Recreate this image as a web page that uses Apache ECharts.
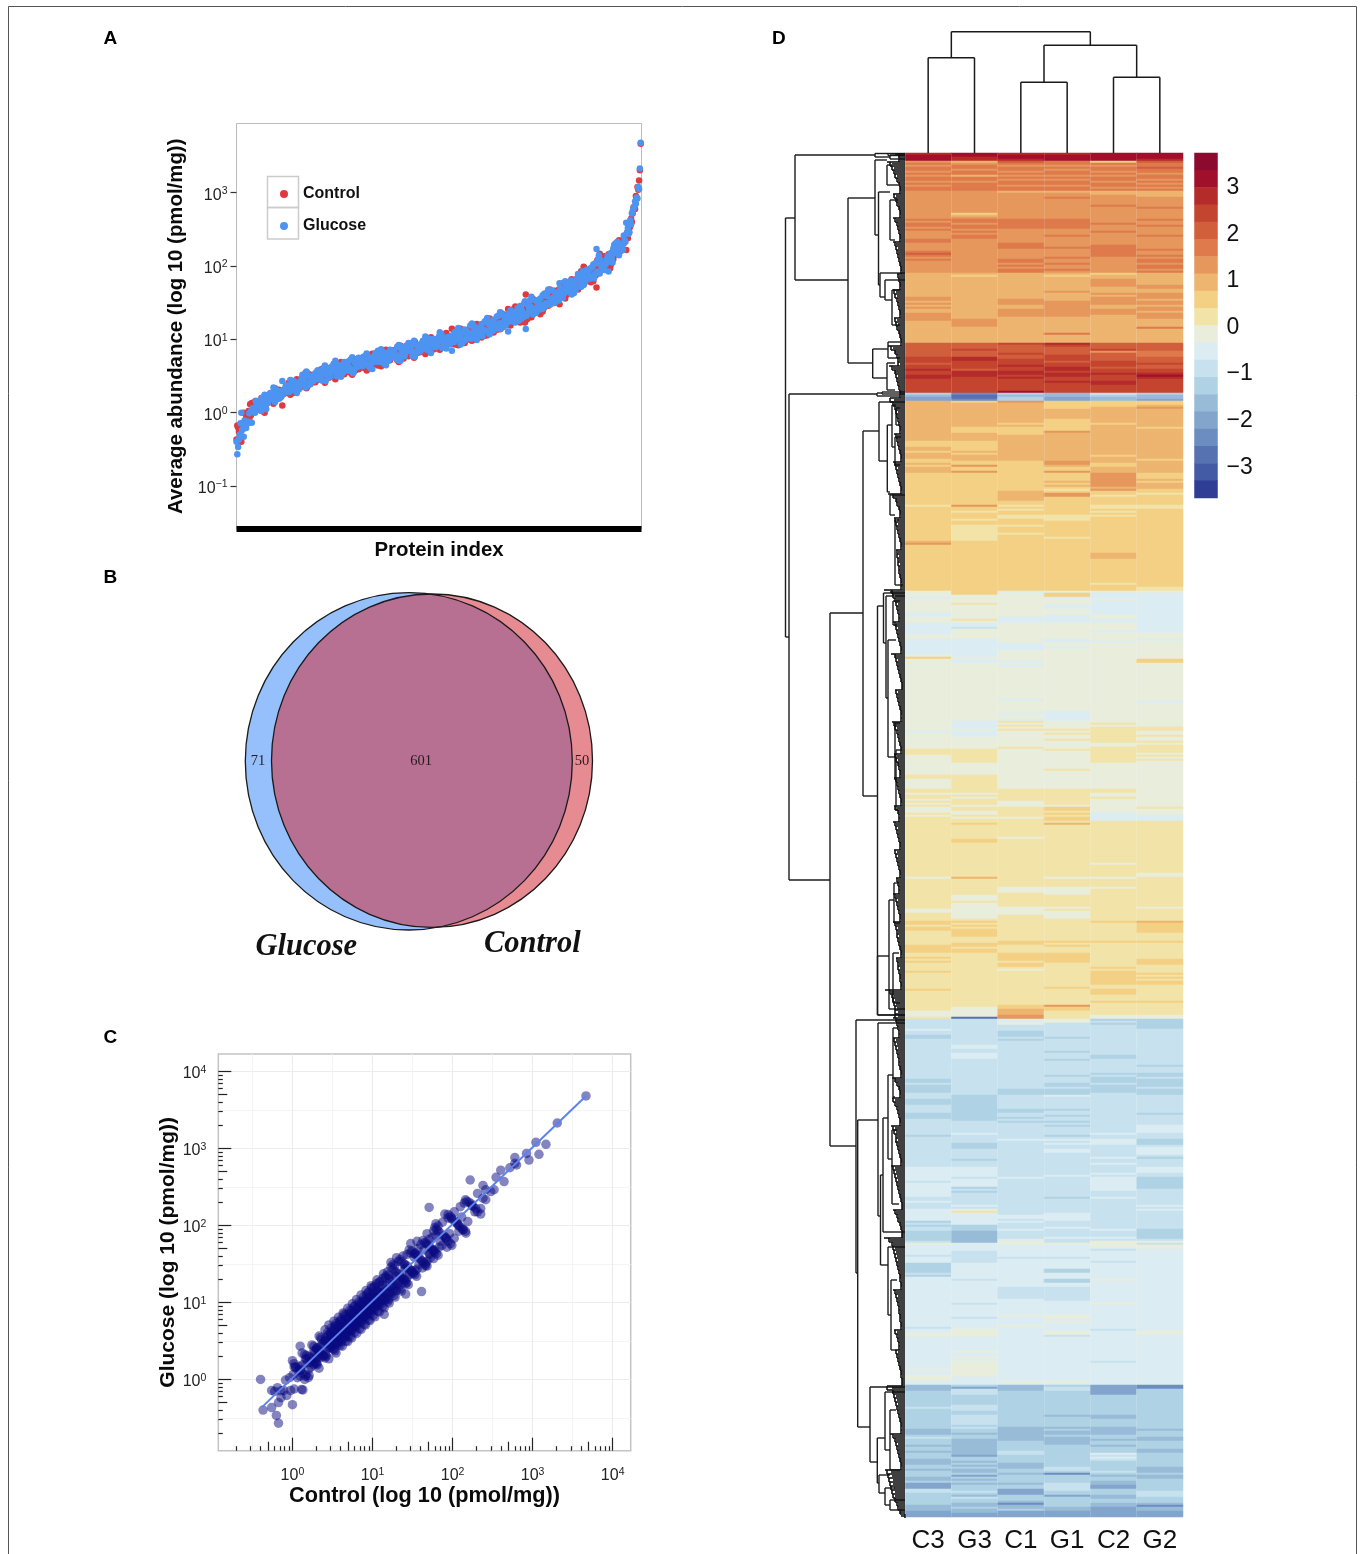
<!DOCTYPE html>
<html><head><meta charset="utf-8">
<style>html,body{margin:0;padding:0;background:#fff}#c{width:1362px;height:1554px}</style>
<script src="https://cdn.jsdelivr.net/npm/echarts@6/dist/echarts.min.js"></script>
</head><body><div id="c"></div>
<script>
const SANS='"Liberation Sans",Arial,sans-serif', SERIF='"Liberation Serif",serif';
// Panel A and C: per-protein abundance (pmol/mg); same position = same protein
const controlAbundance=[
.67,.63,.43,.55,.67,1.0,.55,.72,.40,.60,
.72,.78,.85,.65,1.05,.95,.82,1.35,.92,1.30,
1.02,1.15,1.25,1.42,1.10,1.25,1.48,1.35,1.60,1.05,
1.55,1.72,1.45,1.85,1.62,2.0,1.50,1.78,1.25,1.95,
2.05,1.85,2.3,2.1,1.9,2.45,2.2,2.6,2.0,2.35,
2.7,2.4,2.95,2.55,3.2,2.3,2.85,3.1,2.6,3.4,
3.05,3.6,2.8,3.3,3.75,3.0,3.5,4.1,3.2,3.65,
4.2,3.5,3.9,4.5,3.35,4.0,4.7,3.8,4.35,3.6,
4.9,4.25,5.2,3.9,4.6,5.5,4.4,5.0,4.1,5.4,
4.8,5.7,5.2,6.1,4.6,5.4,6.4,5.0,5.9,4.4,
6.3,5.6,6.8,5.2,6.1,7.1,5.8,6.6,7.4,5.5,
6.9,7.8,6.2,7.3,8.2,6.6,7.6,5.9,8.5,7.0,
8.1,7.2,8.9,7.6,9.4,6.8,8.4,9.8,7.3,8.8,
9.5,8.1,10.4,7.9,9.1,11.0,8.6,10.0,14.0,11.5,
9.0,10.8,8.5,11.8,9.6,12.4,10.2,8.9,13.0,10.9,
11.5,14.0,9.8,12.5,15.0,10.6,13.2,16.0,11.2,14.2,
16.5,12.4,18.0,13.5,17.0,20.0,14.6,18.5,26.0,15.8,
20.5,15.5,22.5,17.0,24.0,18.0,19.5,26.0,17.0,23.0,
27,19,29,21,26,32,22,25,34,20,
28.7,36,24,42,30,41,27,38,33,46,
34,48,37,53,30,44,58,40,51,36,
52,45,60,51,68,48,74,56,85,62,
70,58,82,66,92,75,105,62,88,120,
98,135,80,115,147,51,105,155,130,125,
140,190,150,175,225,205,240,260,166,330,
350,440,400,520,600,631,600,900,840,1200,
1100,1468,2032,4640,
1.32,1.45,1.1,1.58,1.05,1.26,1.18,1.0,1.62,1.22,
1.9,1.5,2.15,1.72,1.42,1.98,1.78,1.32,2.05,1.62,
2.25,2.55,2.0,2.85,1.85,2.4,2.12,1.75,2.65,2.05,
2.9,3.3,2.5,3.5,2.25,3.0,2.7,2.15,3.4,2.6,
3.4,3.75,3.0,4.2,2.75,3.55,3.2,2.55,3.95,2.95,
3.9,4.4,3.4,4.9,3.05,4.1,3.7,2.85,4.65,3.3,
4.45,5.0,3.95,5.5,3.5,4.7,4.2,3.3,5.3,3.8,
5.05,5.6,4.5,6.35,4.0,5.3,4.8,3.75,6.0,4.35,
5.75,6.4,5.1,7.2,4.6,6.1,5.45,4.3,6.9,5.0,
6.55,7.4,5.8,8.2,5.2,7.0,6.2,4.9,7.9,5.7,
7.5,8.5,6.7,9.3,6.0,7.95,7.1,5.6,9.0,6.5,
8.5,9.6,7.6,10.7,6.8,9.1,8.1,6.3,10.2,7.4,
9.75,11,8.7,12.2,7.7,10.4,9.2,7.2,11.7,8.5,
11.2,12.7,9.9,14,8.9,11.9,10.6,8.3,13.4,9.7,
13,14.7,11.5,16.2,10.3,13.8,12.2,9.6,15.5,11.2,
15.4,17.4,13.6,19.2,12.2,16.4,14.6,11.4,18.4,13.3,
18.5,21,16.4,23,14.7,19.7,17.5,13.7,22,16,
22.6,25.5,20,28,18,24,21.4,25,26.8,19.5,
28.8,32.5,25.5,35.6,23,30.6,27.2,31,34,24.8,
39,44,34.6,48,31,41.5,37,42,46,33.6,
53.5,60,47.5,66,42.6,57,50.5,57,63,46,
76.5,88,66,98,60,84,71,82,94,63,
112,130,97,145,88,122,105,118,136,93,
180,205,160,225,145,195,172,240,260,300];
const glucoseAbundance=[
.27,.34,.40,.43,.50,.47,.72,.58,1.0,.70,
.71,.72,.62,.78,.75,.72,.98,.73,1.05,.74,
1.15,1.05,1.10,1.00,1.45,1.30,1.15,1.55,1.35,1.45,
1.65,1.45,1.85,1.55,1.90,1.60,2.05,1.75,2.70,1.85,
1.9,2.35,1.95,2.4,2.25,2.0,2.65,2.1,2.55,2.3,
2.45,2.95,2.6,3.15,2.5,3.3,2.9,2.7,3.45,2.85,
3.5,2.95,3.8,3.4,3.05,4.0,3.45,3.1,4.3,3.7,
3.6,4.4,4.05,3.45,4.9,4.2,3.75,4.6,4.1,5.0,
4.15,5.1,4.4,5.6,4.9,4.3,5.3,4.7,5.8,4.6,
5.9,4.9,5.7,4.95,6.5,5.6,5.1,6.3,5.4,7.0,
5.4,6.7,5.9,7.2,6.6,5.7,7.3,6.2,5.9,7.8,
7.5,6.5,8.2,7.1,6.7,8.4,7.0,8.9,6.9,8.1,
7.3,9.0,7.7,8.9,7.9,9.6,8.6,7.8,10.1,9.0,
8.4,10.3,8.8,10.9,9.9,8.7,11.2,9.4,7.0,9.2,
11.4,9.4,12.6,10.0,11.9,9.8,12.8,13.6,10.5,12.0,
14.0,10.8,15.5,13.0,11.4,16.2,13.6,11.0,17.5,13.3,
13.2,18.5,14.0,20.5,15.5,14.2,21.0,16.6,12.8,22.5,
17.5,25.0,19.5,28.5,18.0,31.0,22.0,17.5,33.0,20.5,
21,30,23,34,28,24,36,27,26,38,
48,27,40,28,44,13.8,42,31,39,30,
44,34,50,38,58,48,37,56,43,62,
42,60,48,66,52,78,55,70,52,74,
62,85,70,98,78,110,68,105,125,84,
120,88,140,105,79,171,150,112,128,175,
195,150,205,180,165,260,330,215,388,290,
420,370,520,560,640,608,760,705,860,836,
1197,1127,2133,4790,
1.2,1.1,1.42,1.05,1.6,1.34,1.3,1.75,1.12,1.48,
1.62,1.82,1.4,1.66,2.1,1.68,1.9,2.2,1.55,1.98,
2.1,1.9,2.45,1.85,2.7,2.05,2.3,2.8,2.0,2.55,
2.62,2.45,3.05,2.2,3.5,2.7,3.1,3.65,2.35,3.2,
3.15,2.85,3.7,2.7,4.05,3.05,3.55,4.4,2.75,3.85,
3.65,3.4,4.15,3.1,4.65,3.55,4.05,5.1,3.15,4.5,
4.15,3.7,4.85,3.45,5.3,3.95,4.6,5.7,3.6,5.05,
4.75,4.35,5.3,3.95,6.0,4.55,5.2,6.4,4.1,5.65,
5.45,4.9,6.1,4.45,6.85,5.2,5.95,7.3,4.6,6.45,
6.25,5.55,7.0,5.1,7.9,5.9,6.8,8.4,5.2,7.35,
7.1,6.4,7.95,5.8,8.9,6.75,7.75,9.6,5.95,8.4,
8.1,7.2,9.1,6.5,10.2,7.6,8.85,10.9,6.8,9.5,
9.25,8.2,10.4,7.5,11.7,8.7,10.1,12.5,7.7,10.8,
10.6,9.4,12,8.5,13.3,10,11.6,14.3,8.9,12.4,
12.2,10.8,13.8,9.8,15.4,11.5,13.4,16.5,10.2,14.4,
14.6,13,16.5,11.7,18.3,13.7,15.9,19.6,12.2,17,
17.5,15.5,19.8,14,22,16.4,19,23.5,14.7,20.4,
21.4,19,24,17,26.8,20,23.2,20,18,24.9,
27.2,24,30.8,21.8,34,25.5,29.6,25.5,23,31.6,
37,32.8,41.8,29.6,46.5,34.6,40,34,31.4,43,
50.5,45,57,41,63.5,47.5,54.7,47,43,58.8,
73.5,62,85,55,94,67,79,68,58,89,
108,92,125,84,138,98,116,100,88,131,
176,150,200,140,215,165,190,225,290,275];
const decadeTicks=[0.1,1,10,100,1000];
const decadeTicksC=[1,10,100,1000,10000];
const halfDecadesC=[0.316,3.16,31.6,316,3160];
const minorTicksShort=[.2,.3,.4,.6,.7,.8,.9,2,3,4,6,7,8,9,20,30,40,60,70,80,90,200,300,400,600,700,800,900,2000,3000,4000,6000,7000,8000,9000];
const minorTicksMid=[.5,5,50,500,5000];
const fitLine=[[0.42,0.44],[4640,4790]];
// Panel B
const vennSets=[['Glucose',163.8,169.3,163.5,168.7,'#96c0fc'],['Control',187,168.7,160.5,166.7,'rgba(212,44,58,.55)']];
const vennCounts=[[13,169,'71'],[176,169,'601'],[337,169,'50']];
// Panel D
const sampleNames=['C3','G3','C1','G1','C2','G2'];
const levelColors=['#8b0a2e','#a0102b','#b52a2a','#c4452f','#d15f3c','#de7a4c','#e6975b','#edb56f','#f3d083','#f2e3a8','#e9eddc','#dbecf2','#c7e2ee','#b0d2e5','#98bcd8','#83a5cc','#6c8dc0','#5672b1','#435ba5','#2f3d94'];
const levelCodes='abcdefghijklmnopqrst';
const colorbarTicks=[-3,-2,-1,0,1,2,3];
const blockRows=[4,15,14,12,15,35,25,4,20,15,17,20,23,16,18,16,15,15,20,15,28,22,25,24,17,21,19,17,21,17,22,21,28,16,16,17,17];
const colC3=["c1b3","g1f1g1f2g1f1g1f2g1f1g1f2","g14","f1g1f2g1f1g1g3f2","g4f1e1f1g1f1g6","h12g2h1g1h1g1h2g4h11","e7d3e1d2c1d2c2d7","n1o1p2","h20","i3h2i1h3i2h1i1h2","h1i16","j1i17h1g1","i23","k3l1k7l2k3","l6k2l8k1i1","k16","k15","k5l1k8j1","j2k10j2k5j1","j1k1j2k1j1k1j1k3j1k1j2","j28","k1j15k2j4","i2j1i2j7i4j2i1j1i1j4","i1j8i1j10k3j1","m5l1m2n2m7","m13n2m1n4m1","m2n3m4n3m7","m1n1m15","l7m1l7m2l1m3","l6n1m1n1m2n5m1","k1l5m1l3n5m1n1l5","l20m1","l2k2l16k1l2k3l2","o3n8m1n4","n6o3n1m1n3o1n1","n1o1n3o3n2o1n3o2n1","p3m2n6o3p3"];
const colG3=["b2c2","h1g1f2g1f2h1f2g1f4","g11i1h1g1","f2g1f2g1f1g1f2g1g1","g15","h1i1h21g4h8","e3d1e3c2d4e1c3d8","q1r2q1","i1h12i3h4","i5h1i1h3i2g1i2","g1i16","g1i2j1i3j1i2j8i2","i23","i2k4j1k7j1k1","l2m1k5l9k1","l2k14","k15","l4k1l3k6j1","j6k6j5j1j2","j1k1j1k1j3k1j2k2j1k1j1","j1i1j7i2j17","h1j8k3j1k8j1","i1j1i1j1i4j3i2j1i2j9","j18k5r1","m13l2m2","l3m18","n13m6","l1m4n3m5n1m3","l5m1l4n1m1n1m6l1m1","k1j1l6n3o6","l4m6l8m1l3","l8m1l6m1l5","k4l7k1l2k1l1k8l4","n1p1m3n5m3n2m1","m4n1m1n2o1n2o5","o3p1n2o1n1o1n1o2n1p1n1o1n1","o1n3m1n1o1m1n2o2n1o2p2"];
const colC1=["c1b2c1","e1f1g1f2g1f1g1f1g1f2g1f2","h1g13","f5g7","f3g5f2g1f1g1f2","h13g3h2g4h13","d1e4d1e2d3c1d2c2d1c1d6b1","n1o1n2","g1h10i1h1i4h3","h10i5","i10h5i2","j1i1j1i2j2i3j1i3j1i5","i23","l1k12l3","k10l4k4","k1l1k1l1k12","k4l1k6l1k2l1","j1k1j1k1j1k8j1k1","k19j1","j5k3j5k1j1","j8k1j19","j5k3j7k4j3","j10i2j4i4j1i2j1k1","j17i2h3g2","l2k1m3n3m1n1m6","m18n3","m7n2m2n1m1n1m5","m3l1m13","m5l1m15","m3l2m1l1m3l1m4l1k1","k1l6m1l14","m6l8k1l4k1l1","l26k1l1","o3n13","n5o7n4","n1m2n4o3n2o1n4","o1n2p3n3o1q1o2n1p3"];
const colG1=["c1b3","f2g1f1g1f2g1f1g1f2g1f2","h1g2f1g10","f5g3f1g3","g2f1g4f1g2f1g2f1g1","h1i1h7g1h4g8h8f1h4","c1d1e4d3e1d2c2d1c2d2c1d5","o2p2","i4h5i6g1h4","h10g2h1i2","g1i4h1i1h1i1j1i1g2i4","i5j3i8j1i3","i23","k1i2l1k3l2k3l4","k8l2k2l1k5","k16","k10l5","k4j1k1j1k2j1k4j1","k9j1k9j1","j4j1j2k1i2j1i1j1i2","j1h1j26","k1j4k4j6k1j1k4j1","j10i1j1i1j3i3i2j4","j8i1j8g1i1i1j4","k2m7n1m6n1","m3n1m7n1m3n2m1n3","l1m6n1m2n1m2n1m1n1m3","m1n1m1l1m1l1m2l2m7","m4l1m10n1m5","m2l4m3l1m4l1m2","k1l6m1l5n2l3n2l2","m7l7k2l1k1l3","l1k2m1l22k1l1","n1m2n12o1","n5o1n1o2n1o4n2","n9m2n1q1n4","m4n2p1n5o2p3"];
const colC2=["b4","i1f1g1f2g1f1g1f2g1f2g1f1","h2g5f1g6","g2f1g3f1g5","g1f6g8","i1h2g4h3g1h1g4h2g3h14","e3d1g1e4d3e1d2c1d3c2d4","m1n1o2","i3h8i1h8","h7i1h3i2h2","h1g7h1g1i2j1i4","j2i1j1i1j1i14","i4h3i12j1i3","k1l3k1l7k2l2","k4l1k4l1k8","k16","k15","k1j1k1j6j1j1k1k1j2","j6k13j1","j1k2j1k7l4","j21k1j6","k1j4k1j16","i1j9i1j12i1j1","i7j2i3j3i1j6k2","n1m1n1m14","m1n2m7n1m1n3m1n4m1","m19","l1m2l3m6l1m2l1m1","m3l1m1l7m3l1m5","m10l1m3l1m1k1","k2l1m1l5m1l8k1l3","l8k1l12","m1l15m1l11","p5n10o1","o1n4o4n2o1n2o1n1","n2l1m1l1m1n5m1n1o1n2o1","o1p2n3o2n2o2p5"];
const colG2=["b3c1","e1f2e1f2g1f2g1f1g1f1g1f1","h3g5f1g5","f1g2f1g4f1g3","g3f1g2f1g1f2g1f2g1f1","h6g2h2g3h1g2h1g2h1g3h4f1h7","e4f3e3d1e2d2c1b1c1d7","n1o2p1","i2h1g1h9i1h6","h9i1h5","h1i3h1i1h3i2j1i5","j2i18","i21j2","k1l15","l5k3l1k9","i2k14","k5l1k9","k3j2k2j1k2j1k1j1j2","j1k1j1k1j1k15","k8j1k3l3","j26k2","j15k1j6","h1i5j4i1j8i3j3","j1i1j1i1j1i2j8i1j6k2","n5m12","m6n1m3n2m1n4m1n3","m9n1m5l4","m3n3m1l4m1n1m2","l3m2n6m8l1m1","l1m9n5m1k1","m1k2l19","l21","l1k2l25","q2n14","n6o1n3o2n4","o2n7o3n1o2n2","n4m3n3o1q1o2p3"];
// Dendrograms. Column tree: [posA, heightA, posB, heightB, mergeHeight]
const colTree=[[0,0,1,0,95.3],[2,0,3,0,70.7],[4,0,5,0,75.7],[2.5,70.7,4.5,75.7,107.7],[0.5,95.3,3.5,107.7,121.3]];
// Row tree: [mergeHeight, rowA, heightA, rowB, heightB]
const rowTree=[[119.5,32.5,110,242,116],[110,1,30,63.5,57],[30,.25,17,2,15],[17,.25,0,1.25,0],[15,1,0,3,0],[57,22.5,30,105,33],[30,3.5,18,41,26.5],[18,6,13,16,7],[26.5,19.5,15,66,25],[15,23.5,7,43.5,10],[25,60,0,72,20],[20,63.5,0,73.5,13],[13,68.5,5,86,5],[32.3,98,17,112.5,18],[17,94.5,5,102.5,5],[18,105,10,118.5,10],
[28,120,23,121.5,5],[23,119.5,0,120.5,0],[116,120.5,28,363.5,75],[75,230,42,496.5,49],[42,139,26,321.5,27.5],[26,124.5,0,154,17.7],[17.7,136,13,169.5,15],[13,126,9,147,10],[9,127.5,5,136,5],[10,142,4,156,5],[15,171,0,181,10],[10,183.5,6,216,2],
[27.5,226.5,21.5,431,0],[27.5,401.5,16,431,0],[21.5,220,0,245,19],[19,221.5,0,272.5,17],[12,224,5,236,8],[17,243.5,9,302,10],[10,285,5,313.5,9],[9,298.5,4,328.5,7],[16,373.5,11,428,0],[11,365,6,385,5],[12,400,6,425,5],
[49,433.5,0,560,47.3],[47.3,483.5,27,637,35],[27,435,0,531.5,24.5],[24.5,511,22,556,17],[22,482.5,17,539.5,0],[17,461,12,503,13],[12,437.5,7,472,10],[13,488.5,8,525.5,6],[17,547,0,581,14],[14,563.5,8,598.5,10],[35,617,0,654.5,27.7],[27.7,642.5,20,665,26],[20,619.5,0,648.5,15],[15,628.5,9,658.5,5],[26,661,15,670,20],[20,667.5,10,676,15],[15,673.5,0,678.5,0]];
// Leaf merge heights read down the row dendrogram, base-36 digits, one per two rows
const leafHeights=["a6","ifdba865","cb9865","ca8765","ca987654","8765","cba8765","ba98654","hea87","gda98765","ff","ca98765","b987654","ca987654","hc9865","ba987654","9887766544","ldca9876","ca987654","ea9876543","a9876544","dba87654","ba9765","b987654","ba76","ca98765","ba98765","9876","ca98765","ca9887654","98776554","kfdcbaa","c9876","cba9876654","da865","dca8765","ecb9a87654","ecba9876543","ca87543","lg","dcba9876554","ca98766554","ba876","a98765443","ii","cba9876544","fca987654","kihgfedca875"].join('');

// ---- derived tables ----
const proteinOrder=controlAbundance.map((_,i)=>i).sort((a,b)=>controlAbundance[a]*glucoseAbundance[a]-controlAbundance[b]*glucoseAbundance[b]);
const sampleCols=[colC3,colG3,colC1,colG1,colC2,colG2];
const levelZ=i=>+(3.7-0.37*(i+.5)).toFixed(3);
const rowCount=blockRows.reduce((a,b)=>a+b,0);
const rowNames=Array.from({length:rowCount},(_,i)=>'P'+(i+1));
const heatData=[];
sampleCols.forEach((col,c)=>{
  let row=0;
  col.forEach((rle,b)=>{
    let n=0,last='k';
    for(const m of rle.matchAll(/([a-t])(\d+)/g)){
      last=m[1];
      for(let k=0;k<+m[2]&&n<blockRows[b];k++,n++) heatData.push([c,row+n,levelZ(levelCodes.indexOf(m[1]))]);
    }
    for(;n<blockRows[b];n++) heatData.push([c,row+n,levelZ(levelCodes.indexOf(last))]);
    row+=blockRows[b];
  });
});
const colorbarData=levelColors.map((_,i)=>[0,i,levelZ(i)]);
const colSegs=[];
colTree.forEach(([a,ha,b,hb,h])=>{colSegs.push([a,ha,a,h],[a,h,b,h],[b,hb,b,h]);});
const rowSegs=[];
rowTree.forEach(([h,ra,ha,rb,hb])=>{rowSegs.push([h,ra,h,rb],[h,ra,ha,ra],[h,rb,hb,rb]);});
const leafSegs=[];
[...leafHeights].forEach((ch,i)=>{
  const h=parseInt(ch,36), r=i*2+.5, next=parseInt(leafHeights[i+1]||'0',36);
  leafSegs.push([h,r,0,r],[Math.ceil(h*.7),r+1,0,r+1],[Math.min(h,next),r,Math.min(h,next),r+2]);
});
const segRender=(w,col)=>(p,api)=>{
  const a=api.coord([api.value(0),api.value(1)]),b=api.coord([api.value(2),api.value(3)]);
  return {type:'line',shape:{x1:a[0],y1:a[1],x2:b[0],y2:b[1]},style:{stroke:col,lineWidth:w,fill:null},silent:true};
};
const sup=v=>{const e=Math.round(Math.log10(v));return '{b|10}{s|'+(e<0?'\u2212'+(-e):e)+'}';};
const supRich={b:{fontSize:16,fontFamily:SANS,color:'#222',padding:[5,0,0,0]},s:{fontSize:10.5,fontFamily:SANS,color:'#222',padding:[0,0,3,0]}};
const hideAxis=(o)=>Object.assign({show:true,axisLine:{show:false},axisTick:{show:false},axisLabel:{show:false},splitLine:{show:false}},o);
const logBounds={min:0.1186,max:16790};
const logC={type:'log',logBase:10,min:logBounds.min,max:logBounds.max};
const logCx={...logC,position:'bottom'}, logCy={...logC,position:'left'};
const darkTick=(len,vals)=>({show:true,inside:true,length:len,customValues:vals,lineStyle:{color:'#222',width:1.2}});
const titleFont={fontFamily:SANS,fontWeight:'bold',color:'#0a0a0a'};
const noLine={show:false,onZero:false};

const option={
 animation:false,backgroundColor:'#fff',
 grid:[
  {left:236.5,top:123.5,width:405,height:405.5,show:true,borderColor:'#bbb',borderWidth:1,backgroundColor:'#fff'},
  {left:245,top:592,width:348,height:339},
  {left:218.3,top:1054,width:412.4,height:396.7,show:true,borderColor:'#c4c4c4',borderWidth:1.5,backgroundColor:'#fff'},
  {left:905,top:153,width:278,height:1364},
  {left:1194.5,top:153,width:23,height:345},
  {left:905,top:30,width:278,height:123},
  {left:785,top:153,width:120,height:1364}
 ],
 xAxis:[
  {gridIndex:0,type:'value',min:0,max:controlAbundance.length,name:'Protein index',nameLocation:'middle',nameGap:11,nameTextStyle:{...titleFont,fontSize:20.4},
   axisLine:{show:true,onZero:false,lineStyle:{color:'#000',width:6,cap:'butt'}},axisTick:{show:false},axisLabel:{show:false},splitLine:{show:false}},
  hideAxis({gridIndex:1,type:'value',min:0,max:348,show:false}),
  {gridIndex:2,...logCx,name:'Control (log 10 (pmol/mg))',nameLocation:'middle',nameGap:31,nameTextStyle:{...titleFont,fontSize:21.7},
   axisLine:noLine,axisTick:darkTick(13,decadeTicksC),axisLabel:{show:true,margin:12,customValues:decadeTicksC,formatter:sup,rich:supRich},splitLine:{show:true,lineStyle:{color:'#ececec',width:1}}},
  {gridIndex:2,...logCx,axisLine:noLine,axisTick:{show:false,customValues:halfDecadesC},axisLabel:{show:false},splitLine:{show:true,lineStyle:{color:'#f4f4f4',width:1}}},
  {gridIndex:2,...logCx,axisLine:noLine,axisTick:darkTick(4.5,minorTicksShort),axisLabel:{show:false},splitLine:{show:false}},
  {gridIndex:2,...logCx,axisLine:noLine,axisTick:darkTick(9,minorTicksMid),axisLabel:{show:false},splitLine:{show:false}},
  {gridIndex:3,type:'category',data:sampleNames,z:10,axisLine:{show:false},axisTick:{show:false},axisLabel:{fontFamily:SANS,fontSize:26,color:'#111',margin:11},splitLine:{show:true,lineStyle:{color:'rgba(255,255,255,.14)',width:1}}},
  hideAxis({gridIndex:4,type:'category',data:[''],show:false}),
  hideAxis({gridIndex:5,type:'value',min:-.5,max:5.5,show:false}),
  hideAxis({gridIndex:6,type:'value',min:0,max:120,inverse:true,show:false})
 ],
 yAxis:[
  {gridIndex:0,type:'log',logBase:10,min:0.0259,max:8790,position:'left',name:'Average abundance (log 10 (pmol/mg))',nameLocation:'middle',nameRotate:90,nameGap:50,nameTextStyle:{...titleFont,fontSize:20.4},
   axisLine:noLine,axisTick:{show:true,length:6,customValues:decadeTicks,lineStyle:{color:'#333',width:1.2}},axisLabel:{show:true,margin:9,customValues:decadeTicks,formatter:sup,rich:supRich},splitLine:{show:false}},
  hideAxis({gridIndex:1,type:'value',min:0,max:339,inverse:true,show:false}),
  {gridIndex:2,...logCy,name:'Glucose (log 10 (pmol/mg))',nameLocation:'middle',nameRotate:90,nameGap:35,nameTextStyle:{...titleFont,fontSize:21},
   axisLine:noLine,axisTick:darkTick(13,decadeTicksC),axisLabel:{show:true,margin:12,customValues:decadeTicksC,formatter:sup,rich:supRich},splitLine:{show:true,lineStyle:{color:'#ececec',width:1}}},
  {gridIndex:2,...logCy,axisLine:noLine,axisTick:{show:false,customValues:halfDecadesC},axisLabel:{show:false},splitLine:{show:true,lineStyle:{color:'#f4f4f4',width:1}}},
  {gridIndex:2,...logCy,axisLine:noLine,axisTick:darkTick(4.5,minorTicksShort),axisLabel:{show:false},splitLine:{show:false}},
  {gridIndex:2,...logCy,axisLine:noLine,axisTick:darkTick(9,minorTicksMid),axisLabel:{show:false},splitLine:{show:false}},
  hideAxis({gridIndex:3,type:'category',data:rowNames,inverse:true,show:false}),
  hideAxis({gridIndex:4,type:'category',data:levelColors.map((_,i)=>'L'+i),inverse:true,show:false}),
  {gridIndex:4,type:'value',position:'right',min:-3.7,max:3.7,axisLine:{show:false},axisTick:{show:false},splitLine:{show:false},
   axisLabel:{show:true,margin:9,customValues:colorbarTicks,formatter:v=>'{a|'+String(v).replace('-','\u2212')+'}',rich:{a:{fontFamily:SANS,fontSize:23,color:'#111',padding:[4,0,0,0]}}}},
  hideAxis({gridIndex:5,type:'value',min:0,max:123,show:false}),
  hideAxis({gridIndex:6,type:'value',min:0,max:682,inverse:true,show:false})
 ],
 legend:{data:['Control','Glucose'],orient:'vertical',left:275,top:181,itemWidth:28,itemHeight:8,itemGap:16,textStyle:{fontFamily:SANS,fontWeight:'bold',fontSize:16,color:'#111'}},
 visualMap:{type:'piecewise',show:false,seriesIndex:[5,6],dimension:2,pieces:levelColors.map((c,i)=>({min:3.7-0.37*(i+1),max:3.7-0.37*i,color:c}))},
 series:[
  {name:'Control',type:'scatter',xAxisIndex:0,yAxisIndex:0,clip:false,symbol:'circle',symbolSize:6.5,itemStyle:{color:'#e0393e',opacity:1},data:proteinOrder.map((p,i)=>[i,controlAbundance[p]])},
  {name:'Glucose',type:'scatter',xAxisIndex:0,yAxisIndex:0,clip:false,symbol:'circle',symbolSize:6.5,itemStyle:{color:'#4d94f2',opacity:1},data:proteinOrder.map((p,i)=>[i,glucoseAbundance[p]])},
  {type:'custom',name:'Venn',xAxisIndex:1,yAxisIndex:1,clip:false,silent:true,
   data:vennSets.map((s,i)=>[s[1],s[2],s[3],s[4],i]),
   renderItem:(p,api)=>{
     const c=api.coord([api.value(0),api.value(1)]),sz=api.size([api.value(2),api.value(3)]),idx=api.value(4);
     const kids=[{type:'ellipse',shape:{cx:c[0],cy:c[1],rx:sz[0],ry:sz[1]},style:{fill:vennSets[idx][5],stroke:null}}];
     if(idx===1){
       vennSets.forEach(s=>{const q=api.coord([s[1],s[2]]),w=api.size([s[3],s[4]]);kids.push({type:'ellipse',shape:{cx:q[0],cy:q[1],rx:w[0],ry:w[1]},style:{fill:null,stroke:'#1a1a1a',lineWidth:1.3}});});
       vennCounts.forEach(t=>{const q=api.coord([t[0],t[1]]);kids.push({type:'text',style:{text:t[2],x:q[0],y:q[1],align:'center',verticalAlign:'middle',fontFamily:SERIF,fontSize:14.5,fill:'#2a1a20'}});});
     }
     return {type:'group',children:kids};
   }},
  {type:'scatter',name:'Control vs Glucose',xAxisIndex:2,yAxisIndex:2,symbol:'circle',symbolSize:9.5,itemStyle:{color:'#0a0a82',opacity:.5},data:controlAbundance.map((v,i)=>[v,glucoseAbundance[i]])},
  {type:'line',name:'Fit',xAxisIndex:2,yAxisIndex:2,showSymbol:false,lineStyle:{color:'#5b82ee',width:2},data:fitLine,z:5},
  {type:'heatmap',name:'Protein levels',data:heatData,progressive:0},
  {type:'heatmap',name:'Colour key',data:colorbarData,progressive:0},
  {type:'custom',name:'Sample tree',clip:false,silent:true,data:colSegs,renderItem:segRender(1.5,'#1a1a1a')},
  {type:'custom',name:'Protein tree',clip:false,silent:true,data:rowSegs,renderItem:segRender(1.4,'#1c1c1c')},
  {type:'custom',name:'Protein leaves',clip:false,silent:true,data:leafSegs,renderItem:segRender(1.6,'#111')}
 ],
 graphic:{elements:[
  {type:'polyline',shape:{points:[[8.5,1554],[8.5,6.5],[1356.5,6.5],[1356.5,1554]]},style:{fill:null,stroke:'#555',lineWidth:1},silent:true},
  {type:'rect',shape:{x:267.5,y:176.5,width:31,height:31},style:{fill:null,stroke:'#ccc',lineWidth:1.5},z:1},
  {type:'rect',shape:{x:267.5,y:207.5,width:31,height:31.5},style:{fill:null,stroke:'#ccc',lineWidth:1.5},z:1},
  ...[['A',103.5,39],['B',103.5,578],['C',103.5,1038],['D',772,39]].map(t=>({type:'text',x:t[1],y:t[2],style:{text:t[0],fontFamily:SANS,fontWeight:'bold',fontSize:19,fill:'#000',verticalAlign:'middle'}})),
  {type:'text',x:255.5,y:947,style:{text:'Glucose',fontFamily:SERIF,fontWeight:'bold',fontStyle:'italic',fontSize:30.5,fill:'#111',verticalAlign:'middle'}},
  {type:'text',x:484,y:944,style:{text:'Control',fontFamily:SERIF,fontWeight:'bold',fontStyle:'italic',fontSize:30.5,fill:'#111',verticalAlign:'middle'}}
 ]}
};
const place=(si,g)=>{option.series[si].xAxisIndex=option.xAxis.findIndex(a=>a.gridIndex===g);option.series[si].yAxisIndex=option.yAxis.findIndex(a=>a.gridIndex===g);};
place(5,3);place(6,4);place(7,5);place(8,6);place(9,6);
echarts.init(document.getElementById('c'),null,{renderer:'canvas'}).setOption(option);
</script></body></html>
